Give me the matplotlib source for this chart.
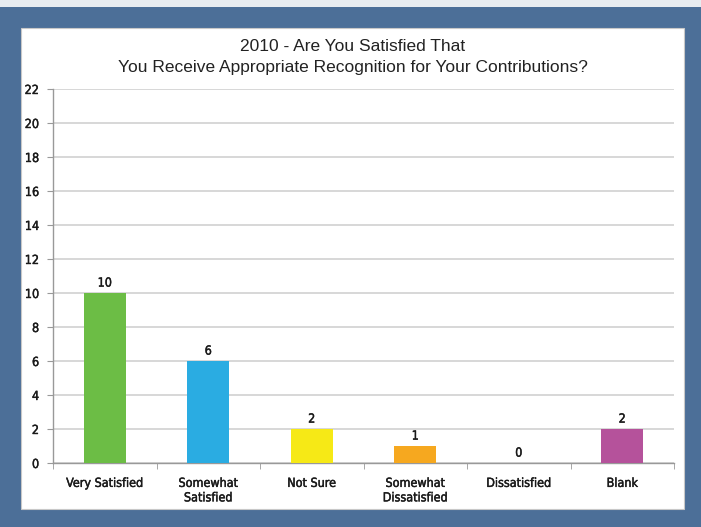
import numpy as np
import matplotlib.pyplot as plt
import matplotlib.patheffects as pe
from matplotlib.patches import Rectangle

# --- data ---
categories = ["Very Satisfied", "Somewhat\nSatisfied", "Not Sure",
              "Somewhat\nDissatisfied", "Dissatisfied", "Blank"]
counts = [10, 6, 2, 1, 0, 2]
colors = ["#6cbd45", "#2aace2", "#f6e916", "#f6a81f", "#ed1c24", "#b5529b"]
yticks = list(range(0, 23, 2))

W, H = 701, 527
fig = plt.figure(figsize=(W / 100, H / 100), dpi=100)
fig.patch.set_facecolor("#4c6f98")

# white panel
fig.patches.append(Rectangle((21 / W, 1 - 509 / H), (684 - 21) / W, (509 - 28) / H,
                             transform=fig.transFigure, facecolor="white",
                             edgecolor="#c8c8c8", linewidth=0.8, zorder=0))
# thin light strip at the very top
fig.patches.append(Rectangle((0, 1 - 7 / H), 1, 7 / H, transform=fig.transFigure,
                             facecolor="#e8ecf0", edgecolor="none", zorder=0))

ax = fig.add_axes([53 / W, 1 - 463 / H, (674 - 53) / W, (463 - 89) / H])
ax.set_facecolor("none")
ax.set_zorder(2)

# condensed labels, slightly emboldened with a thin stroke
heavy = [pe.withStroke(linewidth=0.3, foreground="#1a1a1a")]
lab = dict(family=["DejaVu Sans", "Liberation Sans"], fontsize=9, color="#1a1a1a",
           stretch="condensed", path_effects=heavy)
x = np.arange(len(categories))
ax.bar(x, counts, width=0.41, color=colors, zorder=3)
for xi, v in zip(x, counts):
    ax.text(xi, v + 0.2, str(v), ha="center", va="bottom", **lab)

ax.set_xlim(-0.5, len(categories) - 0.5)
ax.set_ylim(0, 22)
ax.set_yticks(yticks)
ax.set_yticklabels([str(t) for t in yticks], **lab)
ax.set_xticks(x)
ax.set_xticklabels(categories, linespacing=1.15, **lab)
ax.set_xticks(np.arange(-0.5, len(categories), 1), minor=True)
ax.tick_params(axis="x", which="major", length=0, pad=10)
ax.tick_params(axis="x", which="minor", length=4, color="#999999", direction="out")
ax.tick_params(axis="y", length=4, color="#999999", pad=6)
ax.grid(axis="y", color="#d4d4d4", linewidth=1.3, zorder=0)
for s in ["top", "right"]:
    ax.spines[s].set_visible(False)
for s in ["left", "bottom"]:
    ax.spines[s].set_color("#999999")
    ax.spines[s].set_linewidth(1.0)

fig.text((21 + 684) / 2 / W, 1 - 57 / H,
         "2010 - Are You Satisfied That\nYou Receive Appropriate Recognition for Your Contributions?",
         ha="center", va="center", fontsize=12.5, family=["Liberation Sans", "DejaVu Sans"],
         color="#222222", linespacing=1.55)

fig.savefig("out.png", dpi=100, facecolor=fig.get_facecolor())
